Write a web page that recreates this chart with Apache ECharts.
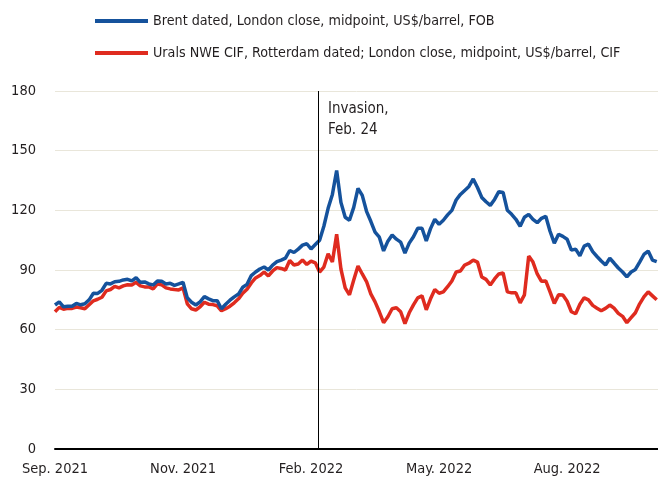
<!DOCTYPE html>
<html>
<head>
<meta charset="utf-8">
<script src="https://cdn.jsdelivr.net/npm/echarts@6/dist/echarts.min.js"></script>
<style>
  html, body { margin: 0; padding: 0; background: #fff; }
  #main { width: 658px; height: 484px; }
</style>
</head>
<body>
<div id="main"></div>
<script>
// one point every two trading days, from early Sep. 2021 to early Oct. 2022
var brent = [
	72.4, 74.0, 71.5, 71.8, 71.8, 73.2, 72.5, 73.0, 75.0, 78.3,
	78.2, 79.8, 83.3, 83.0, 84.1, 84.3, 85.0, 85.3, 84.5, 86.1,
	83.8, 84.0, 83.0, 82.5, 84.5, 84.3, 83.0, 83.3, 82.3, 83.0,
	83.8, 76.0, 73.8, 72.4, 74.0, 76.6, 75.5, 74.6, 74.6, 70.5,
	72.8, 74.8, 76.5, 77.9, 81.3, 82.8, 87.2, 89.0, 90.5, 91.5,
	90.0, 92.5, 94.2, 95.0, 96.0, 99.8, 98.8, 100.5, 102.5, 103.2,
	100.6, 102.8, 105.0, 112.0, 121.0, 128.0, 140.0, 124.0, 116.5, 115.0,
	121.5, 131.0, 127.5, 119.5, 114.5, 109.0, 106.5, 99.6, 104.5, 107.6,
	105.5, 104.0, 98.5, 103.5, 106.7, 111.0, 111.0, 104.6, 110.8, 115.5,
	113.0, 115.0, 117.7, 120.0, 125.2, 128.0, 130.0, 132.0, 135.8, 131.5,
	126.5, 124.3, 122.5, 125.5, 129.4, 129.0, 120.0, 118.0, 115.5, 112.0,
	116.5, 118.0, 115.5, 113.8, 116.0, 117.0, 109.5, 103.5, 108.0, 106.9,
	105.5, 100.0, 100.5, 97.2, 102.0, 103.0, 99.2, 96.8, 94.5, 92.5,
	95.9, 93.5, 91.0, 89.0, 86.5, 89.0, 90.3, 94.0, 97.8, 99.5,
	95.0, 94.2
];
var urals = [
	69.0, 71.2, 70.3, 70.7, 70.7, 71.4, 71.0, 70.5, 72.5, 74.5,
	75.3, 76.3, 79.5, 80.2, 81.8, 81.0, 82.0, 82.6, 82.5, 83.8,
	82.0, 81.5, 81.5, 80.5, 83.0, 82.5, 81.0, 80.5, 80.2, 80.0,
	81.0, 73.0, 70.5, 69.9, 71.5, 73.8, 72.8, 72.6, 72.0, 69.5,
	70.5, 71.8, 73.5, 75.5, 78.3, 80.3, 83.5, 86.0, 87.2, 89.0,
	87.0, 89.5, 91.2, 90.8, 90.0, 94.8, 92.5, 93.0, 95.0, 92.8,
	94.5, 93.6, 89.0, 91.5, 98.2, 94.0, 108.0, 90.5, 81.0, 77.5,
	85.0, 92.0, 88.0, 84.2, 78.0, 74.0, 69.0, 63.5, 66.5, 70.5,
	71.0, 69.0, 63.0, 68.5, 72.5, 76.0, 77.0, 70.0, 75.5, 80.2,
	78.3, 79.0, 81.6, 84.5, 89.0, 89.5, 92.5, 93.4, 95.0, 94.0,
	86.5, 85.3, 82.5, 85.5, 88.0, 88.5, 79.0, 78.5, 78.5, 73.5,
	77.5, 97.0, 94.0, 88.0, 84.3, 84.5, 79.0, 73.2, 77.5, 77.4,
	74.3, 69.0, 68.0, 72.8, 76.0, 75.0, 72.2, 70.8, 69.5, 70.7,
	72.4, 70.8, 68.2, 66.7, 63.5, 66.0, 68.5, 73.0, 76.5, 79.0,
	77.0, 75.0
];
var seriesNames = [
	'Brent dated, London close, midpoint, US$/barrel, FOB',
	'Urals NWE CIF, Rotterdam dated; London close, midpoint, US$/barrel, CIF'
];
var xTickLabels = ['Sep. 2021', 'Nov. 2021', 'Feb. 2022', 'May. 2022', 'Aug. 2022'];
var xTickStep = 30;          // points between two date labels
var invasionAt = 61.6;       // Feb. 24, 2022 on the same point scale
var invasionText = 'Invasion,\nFeb. 24';

var fontName = "'Liberation Sans Narrow', 'DejaVu Sans Condensed', sans-serif";
var textColor = '#231f20';

function toPoints(arr) {
	var out = [];
	for (var i = 0; i < arr.length; i++) {
		out.push([i, arr[i]]);
	}
	return out;
}

var myChart = echarts.init(document.getElementById('main'));

var option = {
	animation: false,
	backgroundColor: '#fff',
	textStyle: { fontFamily: fontName, color: textColor },
	legend: {
		orient: 'vertical',
		left: 90,
		top: 9,
		itemWidth: 53,
		itemHeight: 4,
		itemGap: 18,
		icon: 'rect',
		textStyle: { fontSize: 14.2, fontFamily: fontName, color: textColor },
		data: seriesNames
	},
	grid: { left: 55, right: 0, top: 91, bottom: 35 },
	xAxis: {
		type: 'value',
		min: 0,
		max: 141.3,
		interval: xTickStep,
		axisLine: { lineStyle: { color: '#000', width: 2 } },
		axisTick: { show: false },
		splitLine: { show: false },
		axisLabel: {
			fontSize: 14.5,
			margin: 13,
			color: textColor,
			fontFamily: fontName,
			showMaxLabel: false,
			formatter: function (v) {
				var k = v / xTickStep;
				return (Math.abs(k - Math.round(k)) < 1e-6 && xTickLabels[Math.round(k)]) ? xTickLabels[Math.round(k)] : '';
			}
		}
	},
	yAxis: {
		type: 'value',
		min: 0,
		max: 180,
		interval: 30,
		axisLine: { show: false },
		axisTick: { show: false },
		splitLine: { lineStyle: { color: '#e9e6da', width: 1 } },
		axisLabel: { fontSize: 14.5, margin: 19, color: textColor, fontFamily: fontName }
	},
	graphic: [{
		type: 'text',
		left: 328,
		top: 99,
		style: {
			text: invasionText,
			font: '15px ' + fontName,
			fill: textColor,
			lineHeight: 21
		}
	}],
	series: [
		{
			name: seriesNames[0],
			type: 'line',
			data: toPoints(brent),
			showSymbol: false,
			color: '#15529c',
			lineStyle: { width: 3.5, color: '#15529c' },
			z: 3,
			markLine: {
				silent: true,
				symbol: 'none',
				label: { show: false },
				lineStyle: { color: '#000', width: 1, type: 'solid' },
				data: [{ xAxis: invasionAt }]
			}
		},
		{
			name: seriesNames[1],
			type: 'line',
			data: toPoints(urals),
			showSymbol: false,
			color: '#df2b1f',
			lineStyle: { width: 3.5, color: '#df2b1f' },
			z: 2
		}
	]
};

myChart.setOption(option);

window.addEventListener('resize', function () {
	myChart.resize();
});
</script>
</body>
</html>
